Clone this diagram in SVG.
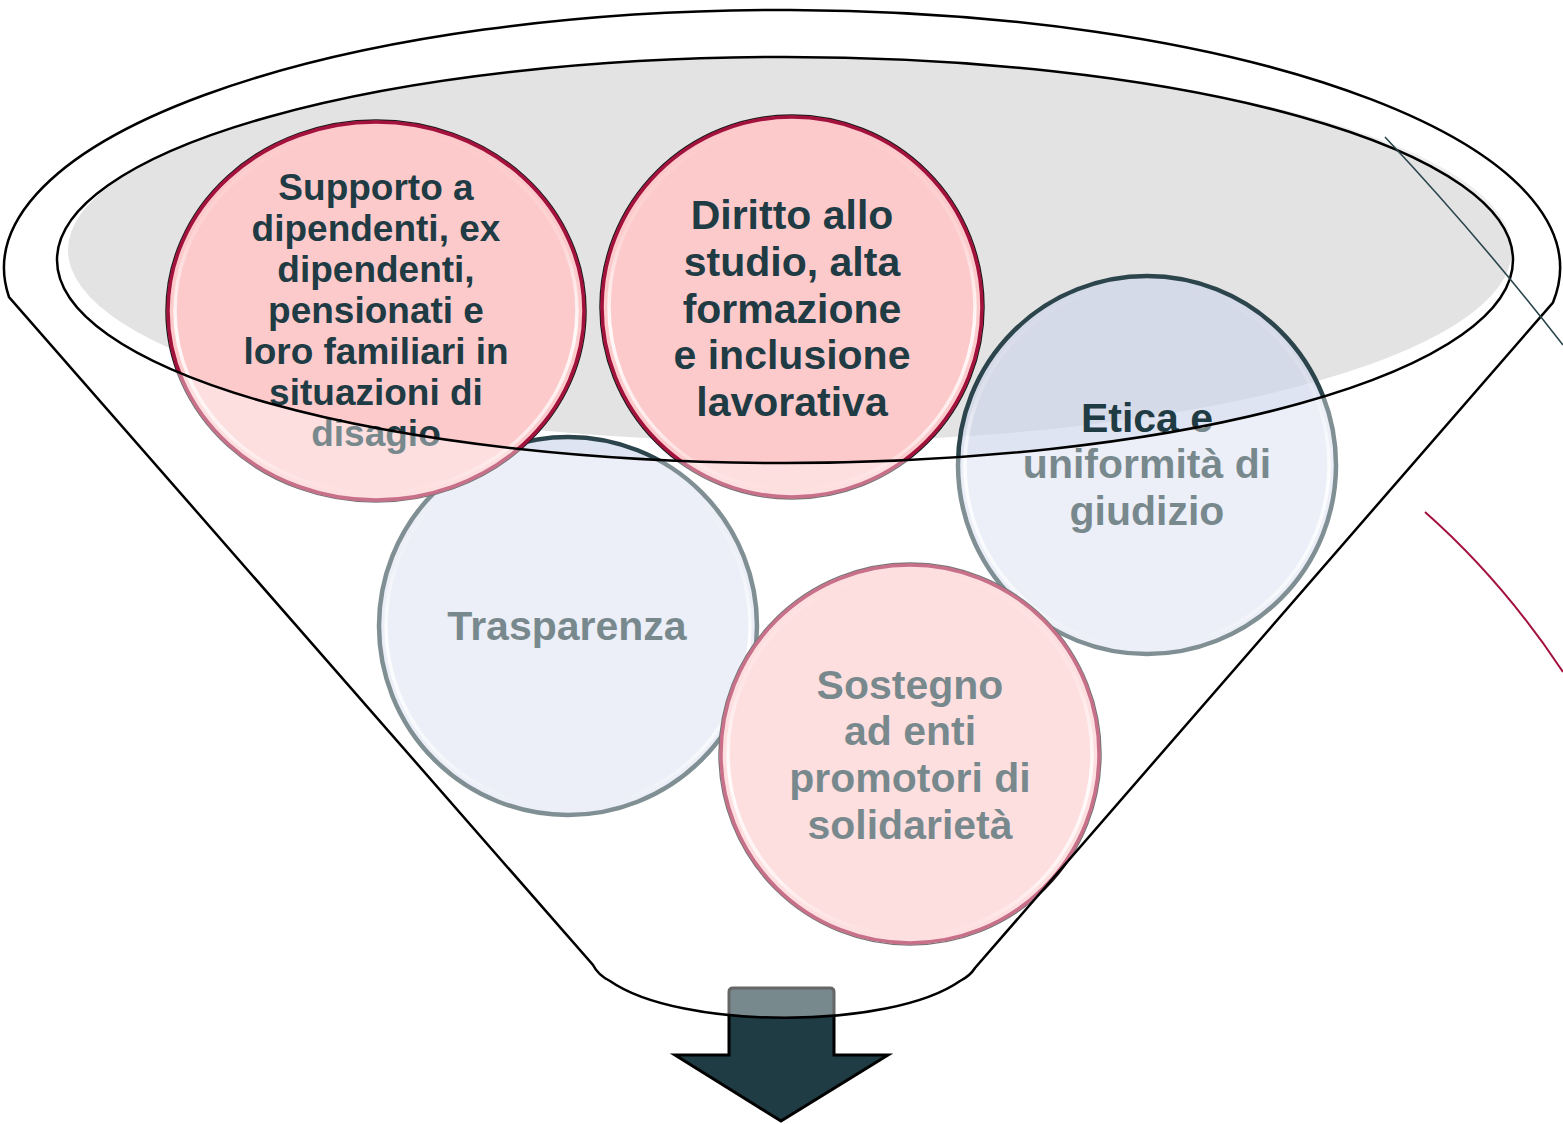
<svg xmlns="http://www.w3.org/2000/svg" width="1563" height="1124" viewBox="0 0 1563 1124">
<defs>
<linearGradient id="hlg" x1="0" y1="0" x2="0" y2="1">
<stop offset="0" stop-color="#ffffff" stop-opacity="0"/>
<stop offset="0.3" stop-color="#ffffff" stop-opacity="0.2"/>
<stop offset="0.55" stop-color="#ffffff" stop-opacity="0.9"/>
<stop offset="0.85" stop-color="#ffffff" stop-opacity="0.6"/>
<stop offset="1" stop-color="#ffffff" stop-opacity="0"/>
</linearGradient>
</defs>
<style>
.t{font-family:"Liberation Sans",Arial,sans-serif;font-weight:bold;fill:#1f3b44;text-anchor:middle}
.s37{font-size:37px}.s41{font-size:41px}
.pink{fill:#fdcacb;stroke:#a3123d;stroke-width:3.5}
.pinkOut{fill:none;stroke:#1a1a1a;stroke-width:1.5}
.blue{fill:rgb(205,213,235);fill-opacity:0.64;stroke:#2c454c;stroke-width:4.5}
.hl{fill:none;stroke:url(#hlg);stroke-width:3.5}
.line{fill:none;stroke:#000;stroke-width:2.5}
</style>
<rect width="1563" height="1124" fill="#ffffff"/>
<g id="mouth-fill">
<ellipse cx="790" cy="250" rx="722" ry="192" fill="#e3e3e3"/>
</g>
<g id="arrow">
<path d="M729,992 Q729,988 733,988 L830,988 Q834,988 834,992 L834,1055 L888,1055 L781,1121 L675,1055 L729,1055 Z" fill="#1f3b44" stroke="#000" stroke-width="3" stroke-linejoin="miter"/>
</g>
<g id="node-trasparenza">
<circle cx="568" cy="626" r="189" class="blue"/>
<circle cx="568" cy="626" r="182" class="hl"/>
<text class="t s41" x="567" y="640">Trasparenza</text>
</g>
<g id="node-etica">
<circle cx="1147" cy="465" r="189" class="blue"/>
<circle cx="1147" cy="465" r="182" class="hl"/>
<text class="t s41" x="1147" y="432">Etica e</text>
<text class="t s41" x="1147" y="478">uniformità di</text>
<text class="t s41" x="1147" y="525">giudizio</text>
</g>
<g id="node-sostegno">
<circle cx="910" cy="754" r="191" class="pinkOut"/>
<circle cx="910" cy="754" r="189" class="pink"/>
<circle cx="910" cy="754" r="182" class="hl"/>
<text class="t s41" x="910" y="699">Sostegno</text>
<text class="t s41" x="910" y="745">ad enti</text>
<text class="t s41" x="910" y="792">promotori di</text>
<text class="t s41" x="910" y="839">solidarietà</text>
</g>
<g id="node-supporto">
<ellipse cx="376" cy="311" rx="210" ry="191" class="pinkOut"/>
<ellipse cx="376" cy="311" rx="208" ry="189" class="pink"/>
<ellipse cx="376" cy="311" rx="201" ry="182" class="hl"/>
<text class="t s37" x="376" y="200">Supporto a</text>
<text class="t s37" x="376" y="241">dipendenti, ex</text>
<text class="t s37" x="376" y="282">dipendenti,</text>
<text class="t s37" x="376" y="323">pensionati e</text>
<text class="t s37" x="376" y="364">loro familiari in</text>
<text class="t s37" x="376" y="405">situazioni di</text>
<text class="t s37" x="376" y="446">disagio</text>
</g>
<g id="node-diritto">
<circle cx="792" cy="307" r="192" class="pinkOut"/>
<circle cx="792" cy="307" r="190" class="pink"/>
<circle cx="792" cy="307" r="183" class="hl"/>
<text class="t s41" x="792" y="229">Diritto allo</text>
<text class="t s41" x="792" y="276">studio, alta</text>
<text class="t s41" x="792" y="323">formazione</text>
<text class="t s41" x="792" y="369">e inclusione</text>
<text class="t s41" x="792" y="416">lavorativa</text>
</g>
<g id="funnel">
<path d="M9,297 A778,258 0 1 1 1553,302.5 L975,968 Q970,976 960,981 C890,1030 680,1030 610,981 Q598,975 593,965 Z M57,260 A728,203 0 1 0 1513,260 A728,203 0 1 0 57,260 Z" fill="#ffffff" fill-opacity="0.4" fill-rule="evenodd"/>
<path d="M9,297 A778,258 0 1 1 1553,302.5 L975,968 Q970,976 960,981 C890,1030 680,1030 610,981 Q598,975 593,965 Z" class="line"/>
<ellipse cx="785" cy="260" rx="728" ry="203" class="line"/>
</g>
<g id="decor">
<path d="M1385,137 Q1478,236 1563,345" fill="none" stroke="#2b454c" stroke-width="1.6"/>
<path d="M1425,512 Q1502,580 1563,672" fill="none" stroke="#a3123d" stroke-width="2"/>
</g>
<g id="connectors"></g>
</svg>
